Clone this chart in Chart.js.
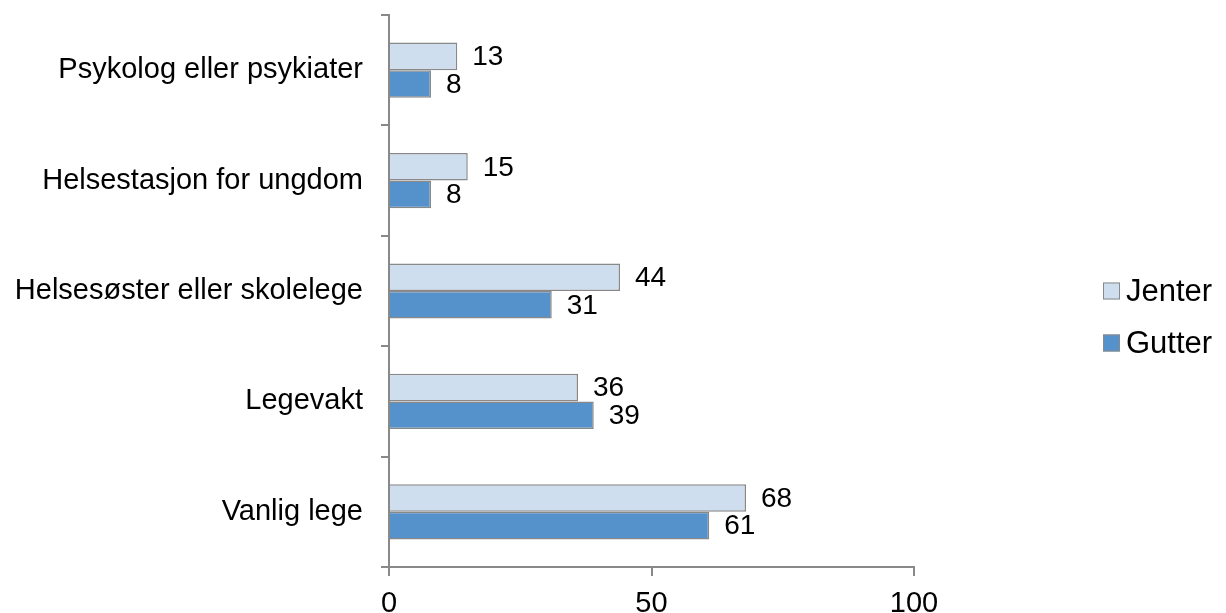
<!DOCTYPE html>
<html>
<head>
<meta charset="utf-8">
<script src="https://cdn.jsdelivr.net/npm/chart.js@4/dist/chart.umd.min.js"></script>
<style>
  html, body { margin: 0; padding: 0; background: #ffffff; }
  #wrap { width: 1226px; height: 613px; }
</style>
</head>
<body>
<div id="wrap"><canvas id="c" width="1226" height="613"></canvas></div>
<script>
const categories = [
  'Psykolog eller psykiater',
  'Helsestasjon for ungdom',
  'Helsesøster eller skolelege',
  'Legevakt',
  'Vanlig lege'
];
const seriesNames = ['Jenter', 'Gutter'];
const jenterValues = [13, 15, 44, 36, 68];
const gutterValues = [8, 8, 31, 39, 61];
const xTickValues = [0, 50, 100];

const FONT = '"Liberation Sans", Arial, Helvetica, sans-serif';
const AXIS_GREY = '#898989';
const colors = ['#cfdeee', '#5591cb'];

const valueLabels = {
  id: 'valueLabels',
  afterDatasetsDraw(chart) {
    const ctx = chart.ctx;
    ctx.save();
    ctx.font = '28px ' + FONT;
    ctx.fillStyle = '#000000';
    ctx.textAlign = 'left';
    ctx.textBaseline = 'middle';
    chart.data.datasets.forEach((ds, i) => {
      const meta = chart.getDatasetMeta(i);
      meta.data.forEach((bar, j) => {
        ctx.fillText(String(ds.data[j]), bar.x + 15, bar.y + 1);
      });
    });
    ctx.restore();
  }
};

const sideLegend = {
  id: 'sideLegend',
  afterDraw(chart) {
    const ctx = chart.ctx;
    const centers = [291, 343];
    ctx.save();
    ctx.font = '31px ' + FONT;
    ctx.textAlign = 'left';
    ctx.textBaseline = 'middle';
    chart.data.datasets.forEach((ds, i) => {
      const cy = centers[i];
      ctx.fillStyle = ds.backgroundColor;
      ctx.fillRect(1103, cy - 8.5, 17, 17);
      ctx.strokeStyle = AXIS_GREY;
      ctx.lineWidth = 1;
      ctx.strokeRect(1103.5, cy - 8, 16, 16);
      ctx.fillStyle = '#000000';
      ctx.fillText(ds.label, 1126, cy + 1);
    });
    ctx.restore();
  }
};

new Chart(document.getElementById('c'), {
  type: 'bar',
  data: {
    labels: categories,
    datasets: [
      {
        label: seriesNames[0],
        data: jenterValues,
        backgroundColor: colors[0],
        borderColor: AXIS_GREY,
        borderWidth: 1.5,
        borderSkipped: 'start'
      },
      {
        label: seriesNames[1],
        data: gutterValues,
        backgroundColor: colors[1],
        borderColor: AXIS_GREY,
        borderWidth: 1.5,
        borderSkipped: 'start'
      }
    ]
  },
  options: {
    indexAxis: 'y',
    responsive: false,
    animation: false,
    devicePixelRatio: 1,
    categoryPercentage: 0.5,
    barPercentage: 1.0,
    layout: { padding: { top: 15, right: 312, bottom: 0, left: 0 } },
    plugins: {
      legend: { display: false },
      tooltip: { enabled: false },
      title: { display: false }
    },
    scales: {
      x: {
        type: 'linear',
        min: 0,
        max: 100,
        afterBuildTicks(scale) {
          scale.ticks = xTickValues.map(v => ({ value: v }));
        },
        afterFit(scale) { scale.height = 46; scale.paddingLeft = 0; scale.paddingRight = 0; },
        grid: {
          display: true,
          drawOnChartArea: false,
          drawTicks: true,
          tickLength: 9,
          color: AXIS_GREY,
          lineWidth: 2
        },
        border: { display: true, color: AXIS_GREY, width: 2 },
        ticks: {
          color: '#000000',
          font: { family: FONT, size: 29 },
          padding: 11,
          maxRotation: 0,
          autoSkip: false
        }
      },
      y: {
        type: 'category',
        z: 1,
        afterFit(scale) { scale.width = 389; scale.paddingTop = 0; scale.paddingBottom = 0; },
        grid: {
          display: true,
          offset: true,
          drawOnChartArea: false,
          drawTicks: true,
          tickLength: 8,
          color: AXIS_GREY,
          lineWidth: 2
        },
        border: { display: true, color: AXIS_GREY, width: 2 },
        ticks: {
          color: '#000000',
          font: { family: FONT, size: 29 },
          padding: 18,
          autoSkip: false
        }
      }
    }
  },
  plugins: [valueLabels, sideLegend]
});
</script>
</body>
</html>
